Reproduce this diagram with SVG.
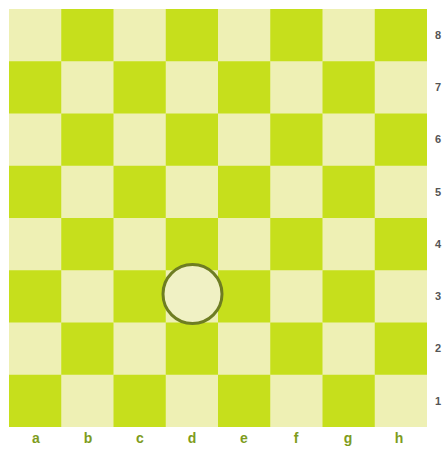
<svg xmlns="http://www.w3.org/2000/svg" width="445" height="449" viewBox="0 0 445 449">
<style>
.l{fill:#eef0b4}
.g{fill:#c6df1c}
.f{font-family:"Liberation Sans",Arial,sans-serif;font-weight:bold;text-anchor:middle}
.file{font-size:14px;fill:#7e9c1c}
.rank{font-size:11px;fill:#555}
</style>
<rect width="445" height="449" fill="#ffffff"/>
<g id="board">
<rect x="9" y="9" width="418" height="418" class="l"/>
<g class="g">
<rect x="61.25" y="9" width="52.25" height="52.25"/><rect x="165.75" y="9" width="52.25" height="52.25"/><rect x="270.25" y="9" width="52.25" height="52.25"/><rect x="374.75" y="9" width="52.25" height="52.25"/>
<rect x="9" y="61.25" width="52.25" height="52.25"/><rect x="113.5" y="61.25" width="52.25" height="52.25"/><rect x="218" y="61.25" width="52.25" height="52.25"/><rect x="322.5" y="61.25" width="52.25" height="52.25"/>
<rect x="61.25" y="113.5" width="52.25" height="52.25"/><rect x="165.75" y="113.5" width="52.25" height="52.25"/><rect x="270.25" y="113.5" width="52.25" height="52.25"/><rect x="374.75" y="113.5" width="52.25" height="52.25"/>
<rect x="9" y="165.75" width="52.25" height="52.25"/><rect x="113.5" y="165.75" width="52.25" height="52.25"/><rect x="218" y="165.75" width="52.25" height="52.25"/><rect x="322.5" y="165.75" width="52.25" height="52.25"/>
<rect x="61.25" y="218" width="52.25" height="52.25"/><rect x="165.75" y="218" width="52.25" height="52.25"/><rect x="270.25" y="218" width="52.25" height="52.25"/><rect x="374.75" y="218" width="52.25" height="52.25"/>
<rect x="9" y="270.25" width="52.25" height="52.25"/><rect x="113.5" y="270.25" width="52.25" height="52.25"/><rect x="218" y="270.25" width="52.25" height="52.25"/><rect x="322.5" y="270.25" width="52.25" height="52.25"/>
<rect x="61.25" y="322.5" width="52.25" height="52.25"/><rect x="165.75" y="322.5" width="52.25" height="52.25"/><rect x="270.25" y="322.5" width="52.25" height="52.25"/><rect x="374.75" y="322.5" width="52.25" height="52.25"/>
<rect x="9" y="374.75" width="52.25" height="52.25"/><rect x="113.5" y="374.75" width="52.25" height="52.25"/><rect x="218" y="374.75" width="52.25" height="52.25"/><rect x="322.5" y="374.75" width="52.25" height="52.25"/>
</g>
</g>
<g id="marker-d3">
<circle cx="192.5" cy="294" r="29.5" fill="#f0f1c4" stroke="#6e7d22" stroke-width="3"/>
</g>
<g id="files" class="f file">
<text x="36" y="443">a</text><text x="88" y="443">b</text><text x="140" y="443">c</text><text x="192" y="443">d</text><text x="244" y="443">e</text><text x="296" y="443">f</text><text x="348" y="443">g</text><text x="399" y="443">h</text>
</g>
<g id="ranks" class="f rank">
<text x="438" y="39">8</text><text x="438" y="91">7</text><text x="438" y="143">6</text><text x="438" y="196">5</text><text x="438" y="248">4</text><text x="438" y="300">3</text><text x="438" y="352">2</text><text x="438" y="405">1</text>
</g>
</svg>
